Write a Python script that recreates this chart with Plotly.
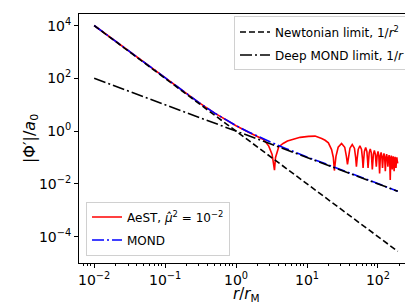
import plotly.graph_objects as go

# ---------------- data ----------------
limit_r = [0.01, 190]
newton_vals = [1e4, 2.77e-5]
deep_mond_vals = [100, 0.00526]

mond_r = [0.01, 0.02, 0.05, 0.1, 0.2, 0.3, 0.5, 0.7, 1, 1.5, 2, 3, 5, 7, 10,
          20, 50, 100, 190]
mond_vals = [10100, 2550, 420, 101, 26, 12.04, 4.83, 2.78, 1.62, 0.924, 0.64,
             0.393, 0.221, 0.153, 0.105, 0.0525, 0.0202, 0.01005, 0.00529]

aest_r = [0.01, 0.02, 0.05, 0.1, 0.2, 0.3, 0.5, 0.7, 1, 1.5, 2, 2.47, 2.89,
          3.22, 3.48, 3.6, 3.99, 4.6, 5.3, 6.13, 8, 10.5, 13, 16.1, 18, 20,
          22.2, 23.5, 24.3,
          25.6, 27.5, 30.7, 34.0, 35.9,
          37.2, 38.5, 40.3, 43.4, 46.6, 48.5,
          49.7, 50.9, 52.7, 55.7, 58.7, 60.5,
          61.7, 62.8, 64.4, 67.1, 69.8, 71.4,
          72.5, 75.2, 77.9, 80.6,
          83.3, 86.2, 89.0, 91.9,
          94.8, 97.5, 100.2, 102.8,
          105.5, 108.1, 110.8, 113.4,
          116, 118.8, 121.5, 124.3,
          127, 129.8, 132.5, 135.3,
          138, 140.8, 143.5, 146.3,
          149, 151.5, 154, 156.5,
          159, 161.5, 164, 166.5,
          169, 171.6, 174.3, 176.9,
          179.5, 182, 184.7, 187.4,
          190]
aest_vals = [10100, 2550, 420, 101, 26, 12, 4.8, 2.75, 1.6, 0.9, 0.62, 0.47,
             0.27, 0.13, 0.033, 0.1, 0.25, 0.34, 0.42, 0.48, 0.58, 0.63,
             0.646, 0.525, 0.45, 0.36, 0.2, 0.1, 0.032,
             0.11, 0.245, 0.34, 0.245, 0.11,
             0.055, 0.10, 0.225, 0.31, 0.225, 0.10,
             0.045, 0.09, 0.2, 0.28, 0.2, 0.09,
             0.04, 0.077, 0.17, 0.24, 0.17, 0.077,
             0.04, 0.15, 0.21, 0.15,
             0.035, 0.13, 0.185, 0.13,
             0.045, 0.12, 0.17, 0.12,
             0.025, 0.11, 0.155, 0.11,
             0.04, 0.102, 0.144, 0.102,
             0.03, 0.096, 0.135, 0.096,
             0.045, 0.088, 0.124, 0.088,
             0.014, 0.083, 0.117, 0.083,
             0.035, 0.079, 0.111, 0.079,
             0.03, 0.075, 0.105, 0.075,
             0.04, 0.072, 0.102, 0.072,
             0.06]

x_tick_vals = [1e-2, 1e-1, 1, 1e1, 1e2]
x_tick_text = ["10<sup>−2</sup>", "10<sup>−1</sup>", "10<sup>0</sup>",
               "10<sup>1</sup>", "10<sup>2</sup>"]
y_tick_vals = [1e-4, 1e-2, 1, 1e2, 1e4]
y_tick_text = ["10<sup>−4</sup>", "10<sup>−2</sup>", "10<sup>0</sup>",
               "10<sup>2</sup>", "10<sup>4</sup>"]

FONT = "DejaVu Sans"

fig = go.Figure()
fig.add_trace(go.Scatter(
    x=aest_r, y=aest_vals, mode="lines", name="AeST, <i>μ̂</i><sup>2</sup> = 10<sup>−2</sup>",
    line=dict(color="#ff0000", width=1.6), legend="legend2", legendgroup="a"))
fig.add_trace(go.Scatter(
    x=mond_r, y=mond_vals, mode="lines", name="MOND",
    line=dict(color="#0000ff", width=1.6, dash="12px,3px,2px,3px"),
    legend="legend2", legendgroup="b"))
fig.add_trace(go.Scatter(
    x=limit_r, y=newton_vals, mode="lines", name="Newtonian limit, 1/<i>r</i><sup>2</sup>",
    line=dict(color="black", width=1.6, dash="6px,3px"), legend="legend", legendgroup="c"))
fig.add_trace(go.Scatter(
    x=limit_r, y=deep_mond_vals, mode="lines", name="Deep MOND limit, 1/<i>r</i>",
    line=dict(color="black", width=1.6, dash="12px,3px,2px,3px"), legend="legend", legendgroup="d"))

minor_vals = [m * 10 ** e for e in range(-3, 3) for m in range(2, 10)]

fig.update_layout(
    width=413, height=305,
    margin=dict(l=71, r=8, t=6, b=50),
    paper_bgcolor="white", plot_bgcolor="white",
    font=dict(family=FONT, size=14, color="black"),
    showlegend=True,
    legend=dict(x=0.991, y=0.99, xanchor="right", yanchor="top",
                bgcolor="rgba(255,255,255,0.85)", bordercolor="#d0d0d0", borderwidth=1,
                font=dict(family=FONT, size=12), tracegroupgap=4),
    legend2=dict(x=0.021, y=0.03, xanchor="left", yanchor="bottom",
                 bgcolor="rgba(255,255,255,0.85)", bordercolor="#d0d0d0", borderwidth=1,
                 font=dict(family=FONT, size=12), tracegroupgap=4),
    xaxis=dict(type="log", range=[-2.214, 2.494], showgrid=False, zeroline=False,
               showline=True, linecolor="black", linewidth=1, mirror=True,
               ticks="outside", ticklen=4, tickwidth=1, tickcolor="black",
               tickmode="array", tickvals=x_tick_vals, ticktext=x_tick_text,
               tickfont=dict(size=14),
               minor=dict(tickmode="array", tickvals=minor_vals, ticks="outside",
                          ticklen=2, tickwidth=0.8, tickcolor="black", showgrid=False)),
    yaxis=dict(type="log", range=[-5.0, 4.44], showgrid=False, zeroline=False,
               showline=True, linecolor="black", linewidth=1, mirror=True,
               ticks="outside", ticklen=4, tickwidth=1, tickcolor="black",
               tickmode="array", tickvals=y_tick_vals, ticktext=y_tick_text,
               tickfont=dict(size=14)),
    annotations=[
        dict(text="<i>r</i>/<i>r</i><sub>M</sub>", xref="paper", yref="paper",
             x=0.5, y=-0.127, xanchor="center", yanchor="middle", showarrow=False,
             font=dict(size=15)),
        dict(text="|Φ′|/<i>a</i><sub>0</sub>", xref="paper", yref="paper",
             x=-0.145, y=0.5, xanchor="center", yanchor="middle", showarrow=False,
             textangle=-90, font=dict(size=16)),
    ],
)

fig.write_html("out.html")
